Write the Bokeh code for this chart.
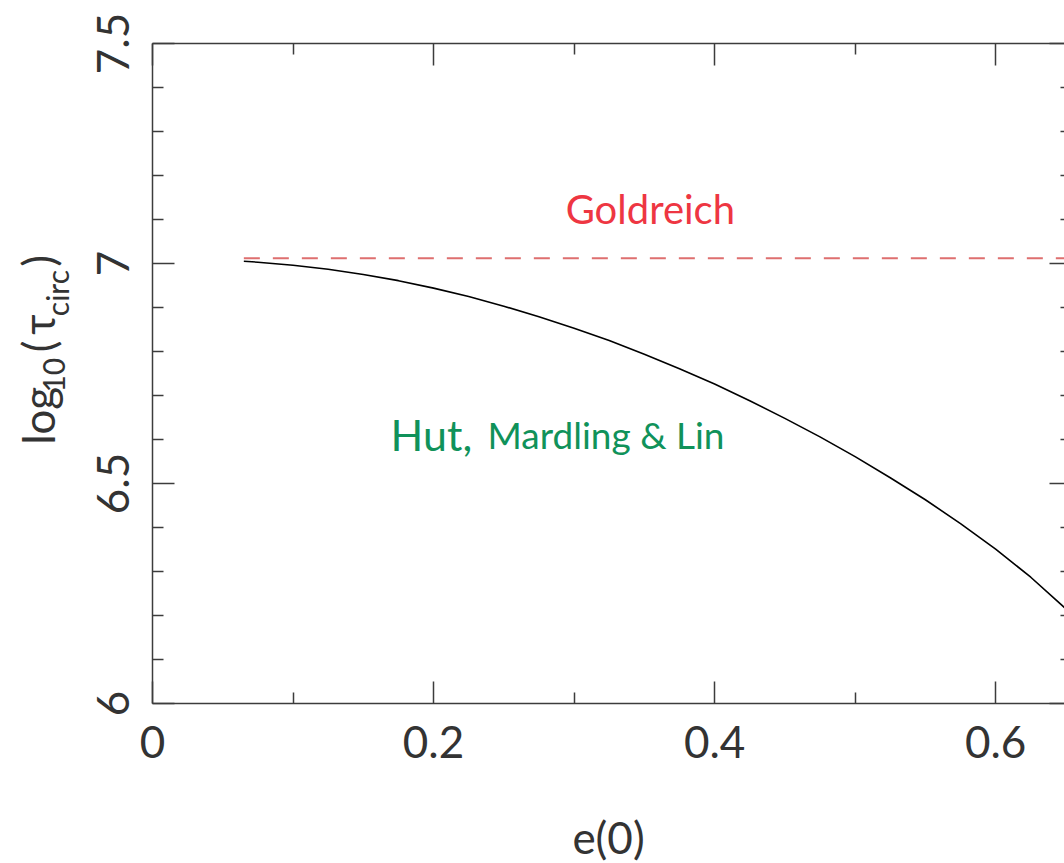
import math

from bokeh.plotting import figure
from bokeh.layouts import column, row
from bokeh.models import (Range1d, FixedTicker, LinearAxis, Label,
                          CustomJSTickFormatter, ColumnDataSource)
from bokeh.core.properties import value
from bokeh.embed import file_html
from bokeh.resources import INLINE

# Circularisation time versus initial eccentricity (Hut, Mardling & Lin)
ecc = [0.065, 0.075, 0.100, 0.125, 0.150, 0.175, 0.200, 0.225, 0.250, 0.275,
       0.300, 0.325, 0.350, 0.375, 0.400, 0.425, 0.450, 0.475, 0.500, 0.525,
       0.550, 0.575, 0.600, 0.625, 0.649]
log_tau_hml = [7.005, 7.003, 6.996, 6.987, 6.975, 6.961, 6.944, 6.925, 6.903, 6.879,
               6.853, 6.825, 6.794, 6.761, 6.726, 6.688, 6.648, 6.606, 6.561, 6.513,
               6.463, 6.409, 6.351, 6.287, 6.218]

# Goldreich estimate: flat in e(0)
gold_ecc = [0.065, 0.649]
gold_log_tau = [7.012, 7.012]

x_major = [0.0, 0.2, 0.4, 0.6]
x_minor = [0.1, 0.3, 0.5]
y_major = [6.0, 6.5, 7.0, 7.5]
y_minor = [6.1, 6.2, 6.3, 6.4, 6.6, 6.7, 6.8, 6.9, 7.1, 7.2, 7.3, 7.4]

AXIS_COLOR = "#3c3c3c"
TEXT_COLOR = "#333333"
FONT = "Lato"

TOTAL_W, TOTAL_H = 1064, 863
TITLE_W = 74      # strip holding the vertical y-axis title
BOTTOM_H = 83     # strip holding the x-axis title
MAIN_H = TOTAL_H - BOTTOM_H


def blank_figure(w, h):
    f = figure(width=w, height=h, x_range=Range1d(0, w), y_range=Range1d(h, 0),
               output_backend="svg", toolbar_location=None,
               x_axis_location=None, y_axis_location=None,
               min_border=0)
    f.grid.visible = False
    f.outline_line_color = None
    f.background_fill_color = "white"
    f.border_fill_color = "white"
    return f


p = figure(width=TOTAL_W - TITLE_W, height=MAIN_H,
           x_range=Range1d(0, 0.649), y_range=Range1d(6.0, 7.5),
           output_backend="svg", toolbar_location=None,
           min_border_left=152 - TITLE_W, min_border_right=0,
           min_border_top=43, min_border_bottom=MAIN_H - 703)
p.grid.visible = False
p.outline_line_color = None
p.background_fill_color = "white"
p.border_fill_color = "white"


def style_ticks(ax, major_len, minor_len):
    ax.major_tick_in = major_len
    ax.major_tick_out = 0
    ax.minor_tick_in = minor_len
    ax.minor_tick_out = 0
    ax.major_tick_line_color = AXIS_COLOR
    ax.minor_tick_line_color = AXIS_COLOR
    ax.major_tick_line_width = 1.5
    ax.minor_tick_line_width = 1.5
    ax.axis_line_color = AXIS_COLOR
    ax.axis_line_width = 1.5


xax = p.xaxis[0]
xax.ticker = FixedTicker(ticks=x_major, minor_ticks=x_minor)
style_ticks(xax, 22, 11)
xax.major_label_text_font = FONT
xax.major_label_text_font_size = "44px"
xax.major_label_text_color = TEXT_COLOR
xax.major_label_standoff = 22

yax = p.yaxis[0]
yax.ticker = FixedTicker(ticks=y_major, minor_ticks=y_minor)
style_ticks(yax, 22, 11)
yax.major_label_text_font = FONT
yax.major_label_text_font_size = "44px"
yax.major_label_text_color = TEXT_COLOR
yax.major_label_orientation = "vertical"
yax.major_label_standoff = 24

blank = CustomJSTickFormatter(code="return ''")

top_ax = LinearAxis(ticker=FixedTicker(ticks=x_major, minor_ticks=x_minor), formatter=blank)
style_ticks(top_ax, 22, 11)
top_ax.major_label_standoff = 0
top_ax.major_label_text_font_size = "1px"
p.add_layout(top_ax, "above")

right_ax = LinearAxis(ticker=FixedTicker(ticks=y_major, minor_ticks=y_minor), formatter=blank)
style_ticks(right_ax, 15, 4)
right_ax.axis_line_color = None
right_ax.major_label_standoff = 0
right_ax.major_label_text_font_size = "1px"
p.add_layout(right_ax, "right")

# curves
p.line(gold_ecc, gold_log_tau, line_color="#de6f6f", line_width=2, line_dash="16 13")
p.line(ecc, log_tau_hml, line_color="black", line_width=1.6)

# curve labels
p.add_layout(Label(x=0.294, y=7.125, text="Goldreich", text_font=FONT,
                   text_font_size="40px", text_color="#ee3642",
                   text_baseline="alphabetic", text_align="left"))
p.add_layout(Label(x=0.1694, y=6.611, text="Hut,", text_font=FONT,
                   text_font_size="43px", text_color="#10925a",
                   text_baseline="alphabetic", text_align="left"))
p.add_layout(Label(x=0.2384, y=6.611, text="Mardling & Lin", text_font=FONT,
                   text_font_size="37px", text_color="#10925a",
                   text_baseline="alphabetic", text_align="left"))

# vertical y-axis title with subscripts: log_10(tau_circ); each piece centred
ytitle = blank_figure(TITLE_W, MAIN_H)
ytitle_src = ColumnDataSource(dict(
    text=["log", "10", "(", "\u03c4", "circ", ")"],
    x=[37, 53, 37, 37, 56, 37],
    y=[440, 392, 358, 332, 295, 257],
    size=["44px", "30px", "44px", "44px", "30px", "44px"],
))
ytitle.text(x="x", y="y", text="text", source=ytitle_src, angle=math.pi / 2,
            text_font=value(FONT), text_font_size="size", text_color=TEXT_COLOR,
            text_align="center", text_baseline="middle")

# x-axis title strip
xtitle = blank_figure(TOTAL_W, BOTTOM_H)
xtitle.text(x=[608], y=[836 - MAIN_H], text=["e(0)"],
            text_font=value(FONT), text_font_size=value("44px"), text_color=TEXT_COLOR,
            text_align="center", text_baseline="alphabetic")

layout = column(row(ytitle, p, spacing=0), xtitle, spacing=0)

open("out.html", "w").write(file_html(layout, INLINE))
